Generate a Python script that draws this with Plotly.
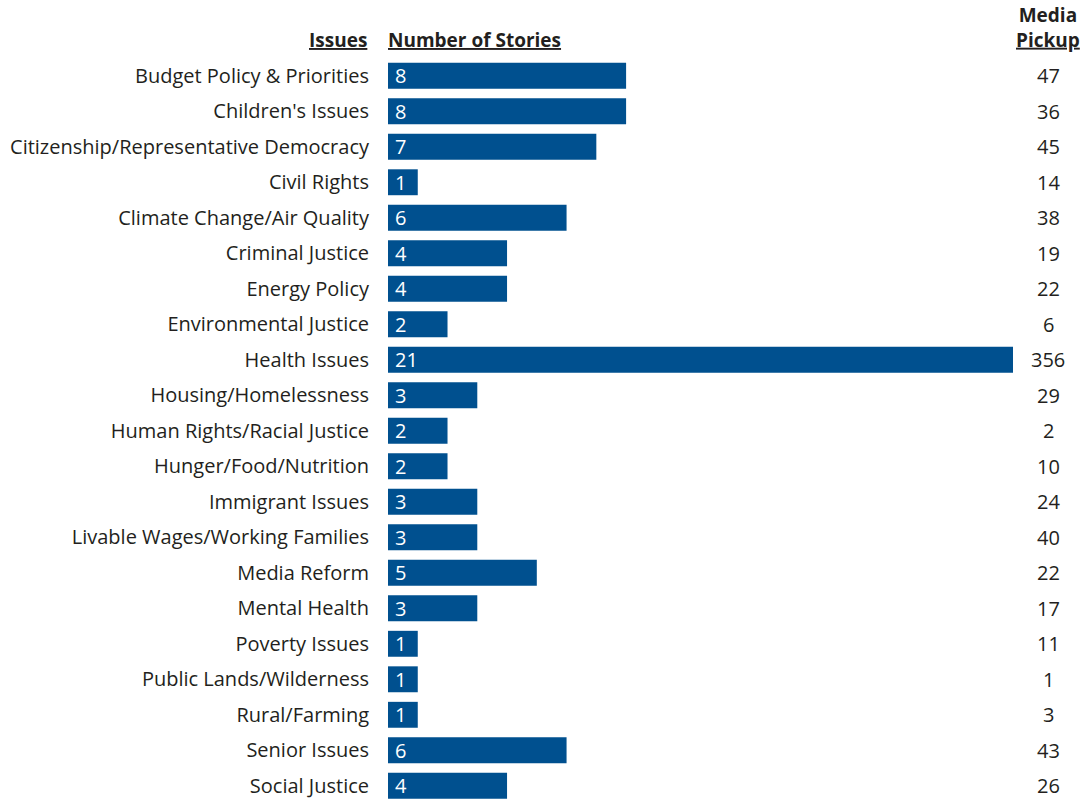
import plotly.graph_objects as go

issues = ["Budget Policy & Priorities", "Children's Issues", "Citizenship/Representative Democracy",
          "Civil Rights", "Climate Change/Air Quality", "Criminal Justice", "Energy Policy",
          "Environmental Justice", "Health Issues", "Housing/Homelessness", "Human Rights/Racial Justice",
          "Hunger/Food/Nutrition", "Immigrant Issues", "Livable Wages/Working Families", "Media Reform",
          "Mental Health", "Poverty Issues", "Public Lands/Wilderness", "Rural/Farming",
          "Senior Issues", "Social Justice"]
stories = [8, 8, 7, 1, 6, 4, 4, 2, 21, 3, 2, 2, 3, 3, 5, 3, 1, 1, 1, 6, 4]
pickup = [47, 36, 45, 14, 38, 19, 22, 6, 356, 29, 2, 10, 24, 40, 22, 17, 11, 1, 3, 43, 26]

FONT = "Open Sans"
FS = 20
HFS = 19
TXT = "#231F20"
BAR = "#00508F"

fig = go.Figure(go.Bar(
    x=stories, y=list(range(len(issues))), orientation="h",
    marker=dict(color=BAR, line=dict(width=0)),
    width=0.73, hoverinfo="skip",
))

ann = []
for i, (s, p) in enumerate(zip(stories, pickup)):
    ann.append(dict(x=0, y=i, xref="x", yref="y", text=str(s), showarrow=False,
                    xanchor="left", xshift=5, font=dict(family=FONT, size=FS, color="white")))
    ann.append(dict(x=1, y=i, xref="paper", yref="y", text=str(p), showarrow=False,
                    xanchor="center", xshift=35, font=dict(family=FONT, size=FS, color=TXT)))

U = '<span style="text-decoration:underline">%s</span>'
ann.append(dict(x=0, y=1, xref="paper", yref="paper", yshift=3, text="<b>" + U % "Issues" + "</b>",
                showarrow=False, xanchor="right", yanchor="bottom", xshift=-19,
                font=dict(family=FONT, size=HFS, color=TXT)))
ann.append(dict(x=0, y=1, xref="paper", yref="paper", yshift=3, text="<b>" + U % "Number of Stories" + "</b>",
                showarrow=False, xanchor="left", yanchor="bottom", xshift=-2,
                font=dict(family=FONT, size=HFS, color=TXT)))
ann.append(dict(x=1, y=1, xref="paper", yref="paper", yshift=3, text="<b>Media<br>" + U % "Pickup" + "</b>",
                showarrow=False, xanchor="center", yanchor="bottom", xshift=35,
                font=dict(family=FONT, size=HFS, color=TXT)))

fig.update_layout(
    width=1082, height=800,
    margin=dict(l=388, r=69, t=58, b=0),
    paper_bgcolor="white", plot_bgcolor="white",
    showlegend=False,
    xaxis=dict(range=[0, 21], visible=False, fixedrange=True),
    yaxis=dict(range=[20.4, -0.5], tickmode="array", tickvals=list(range(len(issues))),
               ticktext=issues, showgrid=False, zeroline=False, showline=False, ticks="",
               ticklabelstandoff=18, tickfont=dict(family=FONT, size=FS, color=TXT),
               fixedrange=True),
    annotations=ann,
)

fig.write_html("out.html", config={"displayModeBar": False},
               post_script="document.body.style.margin='0px';document.body.style.overflow='hidden';")
